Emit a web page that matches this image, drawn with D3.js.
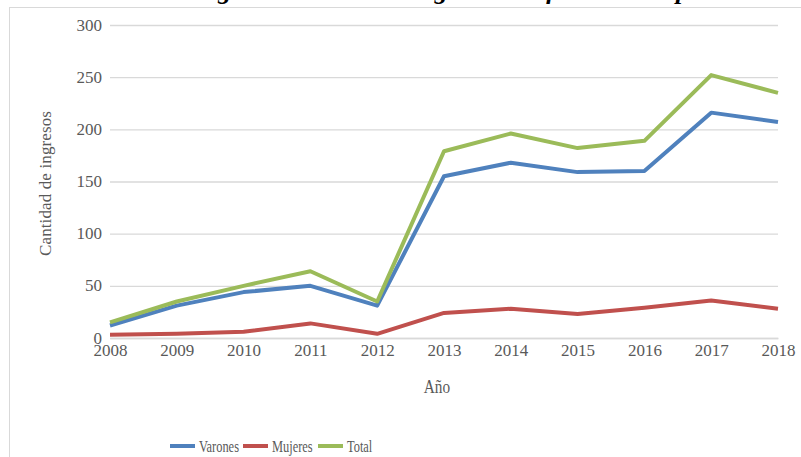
<!DOCTYPE html>
<html>
<head>
<meta charset="utf-8">
<script src="https://cdn.jsdelivr.net/npm/d3@7"></script>
<style>
    html, body { margin: 0; padding: 0; background: #fff; }
    svg { display: block; }
    .tick text { font-family: "Liberation Serif", serif; font-size: 17px; fill: #595959; }
</style>
</head>
<body>
<div id="chart"></div>
<script>
var years = ["2008", "2009", "2010", "2011", "2012", "2013", "2014", "2015", "2016", "2017", "2018"];
var varones = [12, 31, 44, 50, 31, 155, 168, 159, 160, 216, 207];
var mujeres = [3, 4, 6, 14, 4, 24, 28, 23, 29, 36, 28];
var total = [15, 35, 50, 64, 35, 179, 196, 182, 189, 252, 235];
var yTicks = [0, 50, 100, 150, 200, 250, 300];

var seriesNames = ["Varones", "Mujeres", "Total"];
var seriesColors = ["#4f81bd", "#c0504d", "#9bbb59"];

var fullWidth = 801;
var fullHeight = 457;
var margin = { "top": 25, "right": 23, "bottom": 119, "left": 110 };
var width = fullWidth - margin.left - margin.right;
var height = fullHeight - margin.top - margin.bottom;

var svg = d3.select("#chart").append("svg")
    .attr("width", fullWidth)
    .attr("height", fullHeight);

// chart frame (runs past the page on right and bottom)
svg.append("rect")
    .attr("x", 9.5).attr("y", 7.5)
    .attr("width", 900).attr("height", 600)
    .attr("fill", "#fff").attr("stroke", "#d9d9d9");

// title, mostly cut off at the top
svg.append("text")
    .attr("x", 400).attr("y", -1)
    .attr("text-anchor", "middle")
    .style("font-family", "'Liberation Serif', serif")
    .style("font-style", "italic")
    .style("font-weight", "bold")
    .style("font-size", "26px")
    .attr("textLength", 760)
    .text("Evolución de ingresos de tecnología en informática por sexo");

var g = svg.append("g")
    .attr("transform", "translate(" + margin.left + "," + margin.top + ")");

var x = d3.scalePoint().domain(years).range([0, width]);
var y = d3.scaleLinear().domain([0, 300]).range([height, 0]);

// gridlines
var yAxis = d3.axisLeft(y).tickValues(yTicks).tickSize(-width).tickPadding(8);
var yG = g.append("g").call(yAxis);
yG.select(".domain").remove();
yG.selectAll(".tick line").attr("stroke", "#d9d9d9").attr("stroke-width", 1.3);
yG.selectAll(".tick text").attr("dy", "0.3em");

// x axis
var xAxis = d3.axisBottom(x).tickSize(0).tickPadding(5);
var xG = g.append("g").attr("transform", "translate(0," + height + ")").call(xAxis);
xG.select(".domain").attr("stroke", "#d9d9d9").attr("stroke-width", 1.3);
xG.selectAll(".tick text").attr("dy", "0.75em");

// lines
var seriesData = [varones, mujeres, total];
var line = d3.line()
    .x(function(d, i) { return x(years[i]); })
    .y(function(d) { return y(d); });

g.selectAll(".series").data(seriesData).enter().append("path")
    .attr("class", "series")
    .attr("d", function(d) { return line(d); })
    .attr("fill", "none")
    .attr("stroke", function(d, i) { return seriesColors[i]; })
    .attr("stroke-width", 4)
    .attr("stroke-linejoin", "round");

// axis titles
svg.append("text")
    .attr("transform", "translate(51," + (margin.top + height / 2 + 2) + ") rotate(-90)")
    .attr("text-anchor", "middle")
    .style("font-family", "'Liberation Serif', serif")
    .style("font-size", "17px")
    .style("fill", "#595959")
    .attr("textLength", 145)
    .text("Cantidad de ingresos");

svg.append("text")
    .attr("transform", "translate(437,393) scale(0.85,1)")
    .attr("text-anchor", "middle")
    .style("font-family", "'Liberation Serif', serif")
    .style("font-size", "18px")
    .style("fill", "#595959")
    .text("Año");

// legend
var legendX = [170, 243, 318];
var legend = svg.selectAll(".legend").data(seriesNames).enter().append("g")
    .attr("class", "legend")
    .attr("transform", function(d, i) { return "translate(" + legendX[i] + ",446)"; });
legend.append("line")
    .attr("x1", 0).attr("x2", 25)
    .attr("stroke", function(d, i) { return seriesColors[i]; })
    .attr("stroke-width", 4);
legend.append("text")
    .attr("transform", "translate(29,0) scale(0.73,1)")
    .attr("dy", "0.35em")
    .style("font-family", "'Liberation Serif', serif")
    .style("font-size", "17px")
    .style("fill", "#595959")
    .text(function(d) { return d; });
</script>
</body>
</html>
